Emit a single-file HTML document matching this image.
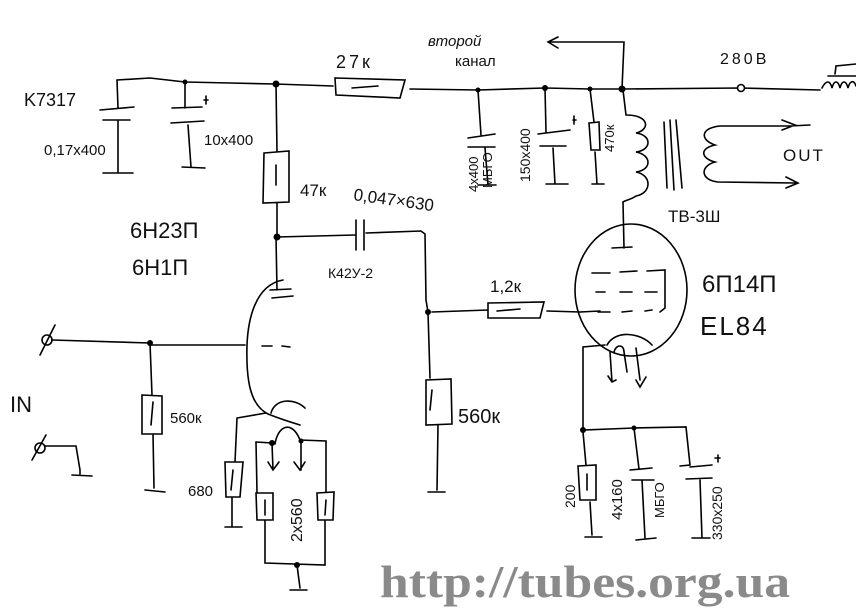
<!DOCTYPE html>
<html><head><meta charset="utf-8"><style>
html,body{margin:0;padding:0;background:#fff;}
svg{display:block;}
text{font-family:"Liberation Sans","DejaVu Sans",sans-serif;fill:#111;}
text.wm{font-family:"Liberation Serif",serif;font-weight:bold;fill:#8a8a8a;}
</style></head><body>
<svg width="856" height="615" viewBox="0 0 856 615" xmlns="http://www.w3.org/2000/svg">
<g stroke="#000" stroke-width="1.6" fill="none" stroke-linecap="round">
<path d="M117 80 L150 78 L185 82 L230 83 L275 84 L333 86"/>
<path d="M335 78 L405 80 L400 98 L336 95 Z"/>
<path d="M352 88 L378 86"/>
<path d="M410 89 L478 90 L545 88 L590 89 L622 89 L740 88 L820 90"/>
<circle cx="741" cy="88" r="3.5" fill="#fff"/>
<path d="M822 88 C826 80 830 80 832 88 C834 80 838 80 840 88 C842 80 846 80 848 88 C850 80 854 80 856 86"/>
<path d="M828 76 L856 76 M835 74 L836 66 L856 64"/>
<path d="M117 80 L118 108 M100 110 L134 107 M103 120 L130 120 M118 121 L118 173 M103 173 L133 173"/>
<path d="M185 82 L185 108 M172 108 L202 107 M171 123 L204 121 M188 125 L191 167 M182 167 L205 168"/>
<path d="M204 100 L208 100 M206 96 L206 104"/>
<path d="M276 84 L277 152 M264 153 L289 151 L289 202 L263 203 Z M276 165 L276 185 M277 203 L277 237"/>
<path d="M277 237 L355 235 M356 220 L356 250 M364 220 L364 250 M366 233 L421 231 L425 234 L426 300 L428 312"/>
<path d="M428 312 L430 378 M426 380 L451 379 L452 424 L426 425 Z M432 390 L430 410 M438 425 L437 490 M428 492 L445 492"/>
<path d="M432 312 L488 310 M488 303 L544 302 L540 318 L488 318 Z M497 311 L520 309 M547 311 L580 312"/>
<path d="M276 237 L277 290 M270 290 L291 289 M272 298 L293 296"/>
<path d="M283 280 C255 285 248 320 247 345 C246 380 250 405 268 414 C278 418 290 422 300 425"/>
<path d="M271 413 C275 398 295 398 305 408"/>
<path d="M150 345 L245 345 M262 346 L272 346 M282 346 L290 347"/>
<circle cx="47" cy="340" r="5"/>
<path d="M40 355 L55 325 M52 340 L150 343"/>
<circle cx="40" cy="448" r="5"/>
<path d="M32 460 L46 435 M45 446 L76 446 L80 470 L80 474 M72 475 L92 476"/>
<path d="M150 343 L152 395 M142 395 L162 396 L162 434 L142 434 Z M153 402 L151 425 M153 434 L154 488 M145 490 L165 492"/>
<path d="M237 418 L266 413 M237 418 L235 462 M225 462 L243 462 L240 497 L226 497 Z M233 470 L231 490 M232 497 L232 527 M225 527 L242 527"/>
<path d="M275 444 C278 425 292 420 300 440 L326 441 L326 492 M256 442 L272 443 L273 470 M301 443 L301 470 M268 462 L273 470 L279 462 M294 462 L300 470 L305 462"/>
<path d="M256 442 L257 492 M256 493 L273 493 L273 520 L257 520 Z M265 500 L265 515 M265 520 L265 563 L325 565 L325 520 M317 493 L334 492 L333 520 L318 520 Z M326 500 L325 515 M297 565 L300 588 M290 590 L307 590"/>
<path d="M478 90 L481 135 M468 138 L495 134 M468 147 L495 147 M485 148 L488 185 M478 185 L496 185"/>
<path d="M545 88 L546 132 M538 134 L570 130 M540 146 L566 146 M553 148 L555 184 M546 184 L568 184"/>
<path d="M590 89 L594 122 M589 123 L599 122 L600 150 L591 150 Z M595 152 L597 184 M592 184 L604 184"/>
<path d="M573 120 L576 120 M574 116 L574 124"/>
<path d="M622 89 L624 42 L548 42 M558 37 L548 42 L558 48"/>
<path d="M623 90 L626 115 C650 115 650 130 636 133 C652 135 652 150 636 152 C652 155 652 170 636 172 C652 175 652 193 636 196 C630 200 626 200 623 202"/>
<path d="M664 122 L667 188 M670 120 L674 190 M676 120 L682 188"/>
<path d="M810 125 L790 126 L720 126 C700 128 700 140 715 145 C700 148 700 158 715 162 C700 166 700 180 718 182 L795 183 M782 120 L795 125 L782 130 M786 177 L798 183 L786 188"/>
<path d="M623 202 L624 248 M612 248 L632 247"/>
<ellipse cx="631" cy="290" rx="56" ry="66"/>
<path d="M592 273 L610 273 M620 272 L637 271 M647 271 L665 270 L665 308 L660 312"/>
<path d="M596 292 L605 292 M620 292 L632 292 M645 292 L657 292"/>
<path d="M598 312 L610 312 M622 312 L632 311 M645 311 L652 310"/>
<path d="M580 312 L600 311"/>
<path d="M607 345 C615 330 640 332 652 345"/>
<path d="M614 352 C616 344 624 344 624 352 L627 372 M636 348 L640 380 M610 352 L612 382 M616 380 L612 382 L608 376 M636 380 L640 387 L646 377"/>
<path d="M605 345 L583 347 L583 430 L634 428 L686 427 L690 465 L680 466"/>
<path d="M583 432 L586 465 M578 466 L596 465 L596 500 L580 500 Z M587 474 L587 490 M590 502 L592 535 M585 537 L602 537"/>
<path d="M634 428 L639 469 M630 470 L652 468 M632 480 L654 480 M642 480 L645 538 M636 540 L656 538"/>
<path d="M690 467 L712 465 M686 479 L712 478 M700 480 L702 538 M692 538 L710 538 M715 458 L720 458 M718 455 L718 462"/>
</g>
<g fill="#000">
<circle cx="185" cy="82" r="2.5"/><circle cx="276" cy="84" r="3.5"/><circle cx="277" cy="237" r="3.5"/>
<circle cx="428" cy="312" r="3"/><circle cx="150" cy="343" r="3"/><circle cx="478" cy="90" r="2.5"/>
<circle cx="545" cy="88" r="3"/><circle cx="590" cy="89" r="2.5"/><circle cx="622" cy="89" r="3.5"/>
<circle cx="272" cy="443" r="3"/><circle cx="301" cy="441" r="2.5"/><circle cx="297" cy="565" r="3"/>
<circle cx="583" cy="430" r="3"/><circle cx="634" cy="428" r="2.5"/>
</g>
<g font-size="17">
<text x="24" y="106" font-size="18">K7317</text>
<text x="44" y="155" font-size="15">0,17x400</text>
<text x="204" y="145" font-size="15">10x400</text>
<text x="336" y="68" font-size="18" letter-spacing="3">27к</text>
<text x="428" y="46" font-size="15" font-style="italic">второй</text>
<text x="455" y="66" font-size="15">канал</text>
<text x="720" y="64" font-size="16" letter-spacing="3">280В</text>
<text x="300" y="196" font-size="17">47к</text>
<text x="353" y="200" font-size="17" transform="rotate(8 353 200)">0,047×630</text>
<text x="130" y="238" font-size="22">6Н23П</text>
<text x="132" y="275" font-size="22">6Н1П</text>
<text x="328" y="278" font-size="14">К42У-2</text>
<text x="490" y="292" font-size="17">1,2к</text>
<text x="702" y="292" font-size="24">6П14П</text>
<text x="700" y="335" font-size="26" letter-spacing="2">EL84</text>
<text x="668" y="222" font-size="17">ТВ-3Ш</text>
<text x="783" y="161" font-size="17" letter-spacing="2">OUT</text>
<text x="170" y="423" font-size="15">560к</text>
<text x="458" y="423" font-size="20">560к</text>
<text x="188" y="496" font-size="15">680</text>
<text x="10" y="412" font-size="22">IN</text>
<text x="302" y="542" font-size="16" transform="rotate(-90 302 542)">2x560</text>
<text x="478" y="192" font-size="13" transform="rotate(-90 478 192)">4x400</text>
<text x="492" y="188" font-size="13" transform="rotate(-90 492 188)">МБГО</text>
<text x="530" y="182" font-size="14" transform="rotate(-90 530 182)">150x400</text>
<text x="614" y="152" font-size="13" transform="rotate(-90 614 152)">470к</text>
<text x="575" y="508" font-size="14" transform="rotate(-90 575 508)">200</text>
<text x="622" y="520" font-size="15" transform="rotate(-90 622 520)">4x160</text>
<text x="664" y="518" font-size="13" transform="rotate(-90 664 518)">МБГО</text>
<text x="722" y="540" font-size="14" transform="rotate(-90 722 540)">330x250</text>
</g>
<text class="wm" x="380" y="597" font-size="46" textLength="410" lengthAdjust="spacingAndGlyphs">http://tubes.org.ua</text>
</svg>
</body></html>
